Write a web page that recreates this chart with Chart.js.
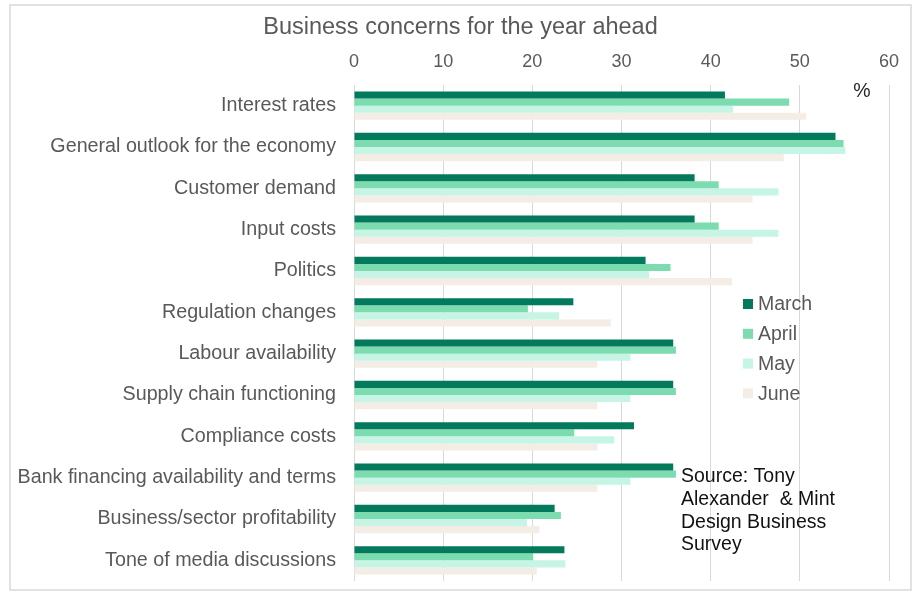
<!DOCTYPE html>
<html>

<head>
  <title>Business concerns for the year ahead</title>
  <script src="https://cdn.jsdelivr.net/npm/chart.js"></script>
  <style>
    html, body {
      margin: 0;
      padding: 0;
      background: #fff;
    }

    .chart-container {
      width: 915px;
      height: 592px;
      position: relative;
    }
  </style>
</head>

<body>
  <div class="chart-container">
    <canvas id="concerns-chart"></canvas>
  </div>
  <script>
    const categories = [
      'Interest rates',
      'General outlook for the economy',
      'Customer demand',
      'Input costs',
      'Politics',
      'Regulation changes',
      'Labour availability',
      'Supply chain functioning',
      'Compliance costs',
      'Bank financing availability and terms',
      'Business/sector profitability',
      'Tone of media discussions'
    ];
    const months = ['March', 'April', 'May', 'June'];
    const march = [41.6, 54.0, 38.2, 38.2, 32.7, 24.6, 35.8, 35.8, 31.4, 35.8, 22.5, 23.6];
    const april = [48.8, 54.9, 40.9, 40.9, 35.5, 19.5, 36.1, 36.1, 24.7, 36.1, 23.2, 20.1];
    const may = [42.5, 55.1, 47.6, 47.6, 33.1, 23.0, 31.0, 31.0, 29.2, 31.0, 19.4, 23.7];
    const june = [50.7, 48.2, 44.7, 44.7, 42.4, 28.8, 27.3, 27.3, 27.3, 27.3, 20.8, 20.5];
    const chartTitle = 'Business concerns for the year ahead';
    const sourceLines = ['Source: Tony', 'Alexander  & Mint', 'Design Business', 'Survey'];

    const colors = ['#037a5c', '#7cdcb0', '#c6f5e6', '#f4ede5'];
    const FONT = "'Liberation Sans', Arial, sans-serif";

    // white page, thin grey frame and the title centred in the frame
    const framePlugin = {
      id: 'frame',
      beforeDraw(chart) {
        const ctx = chart.ctx;
        ctx.save();
        ctx.fillStyle = '#fff';
        ctx.fillRect(0, 0, chart.width, chart.height);
        ctx.strokeStyle = '#d9d9d9';
        ctx.lineWidth = 1.5;
        ctx.strokeRect(10, 5, 901, 585);

        ctx.font = '23.5px ' + FONT;
        ctx.fillStyle = '#595959';
        ctx.textAlign = 'center';
        ctx.textBaseline = 'middle';
        ctx.fillText(chartTitle, 460.5, 28);
        ctx.restore();
      }
    };

    // legend, unit mark and source note drawn inside the plot area
    const notesPlugin = {
      id: 'notes',
      afterDraw(chart) {
        const ctx = chart.ctx;
        ctx.save();
        ctx.font = '19.5px ' + FONT;
        ctx.textBaseline = 'middle';

        chart.data.datasets.forEach((ds, i) => {
          const y = 304 + i * 29.8;
          ctx.fillStyle = ds.backgroundColor;
          ctx.fillRect(743, y - 5, 10, 10);
          ctx.fillStyle = '#595959';
          ctx.textAlign = 'left';
          ctx.fillText(ds.label, 758, y + 1);
        });

        ctx.fillStyle = '#262626';
        ctx.textAlign = 'center';
        ctx.fillText('%', 862, 92);

        ctx.fillStyle = '#111';
        ctx.textAlign = 'left';
        sourceLines.forEach((line, i) => {
          ctx.fillText(line, 681, 477 + i * 22.7);
        });
        ctx.restore();
      }
    };

    const ctx = document.getElementById('concerns-chart').getContext('2d');
    new Chart(ctx, {
      type: 'bar',
      data: {
        labels: categories,
        datasets: [march, april, may, june].map((values, i) => ({
          label: months[i],
          data: values,
          backgroundColor: colors[i],
          borderWidth: 0,
          categoryPercentage: 0.685,
          barPercentage: 1
        }))
      },
      options: {
        indexAxis: 'y',
        responsive: true,
        maintainAspectRatio: false,
        animation: false,
        layout: {
          padding: { left: 0, right: 26, top: 41, bottom: 11 }
        },
        plugins: {
          legend: { display: false },
          tooltip: { enabled: false },
          title: { display: false }
        },
        scales: {
          x: {
            position: 'top',
            min: 0,
            max: 60,
            ticks: {
              stepSize: 10,
              color: '#595959',
              padding: 12,
              font: { family: FONT, size: 18 }
            },
            grid: {
              color: '#d9d9d9',
              lineWidth: 1,
              drawTicks: false
            },
            border: { display: false },
            afterFit(scale) {
              scale.height = 44;
            }
          },
          y: {
            ticks: {
              color: '#595959',
              padding: 18,
              autoSkip: false,
              font: { family: FONT, size: 19.7 }
            },
            grid: { display: false, drawTicks: false },
            border: { display: false },
            afterFit(scale) {
              scale.width = 354;
              scale.paddingTop = 0;
              scale.paddingBottom = 0;
            }
          }
        }
      },
      plugins: [framePlugin, notesPlugin]
    });
  </script>
</body>

</html>
